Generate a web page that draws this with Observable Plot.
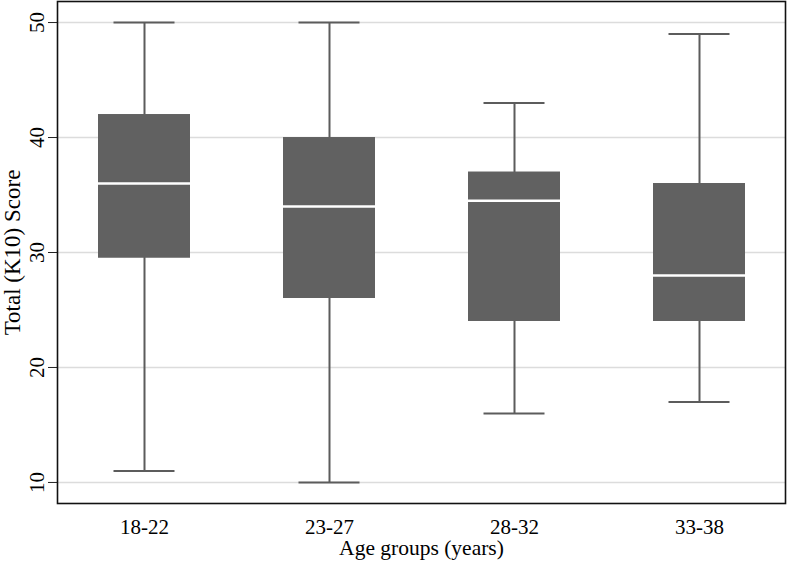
<!DOCTYPE html>
<html>
<head>
<meta charset="utf-8">
<script src="https://cdn.jsdelivr.net/npm/d3@7"></script>
<script src="https://cdn.jsdelivr.net/npm/@observablehq/plot@0.6"></script>
<style>
  html, body { margin: 0; padding: 0; background: #fff; overflow: hidden; }
</style>
</head>
<body>
<div id="chart"></div>
<script>
const groups = ["18-22", "23-27", "28-32", "33-38"];
const lowWhisker = [11, 10, 16, 17];
const q1 = [29.5, 26, 24, 24];
const median = [36, 34, 34.5, 28];
const q3 = [42, 40, 37, 36];
const highWhisker = [50, 50, 43, 49];
const yTicks = [10, 20, 30, 40, 50];
const xTitle = "Age groups (years)";
const yTitle = "Total (K10) Score";

const rows = groups.map((g, i) => ({
  group: g, lo: lowWhisker[i], q1: q1[i], med: median[i], q3: q3[i], hi: highWhisker[i]
}));

const chart = Plot.plot({
  width: 787,
  height: 563,
  marginLeft: 57,
  marginRight: 2,
  marginTop: 1,
  marginBottom: 60,
  style: { fontFamily: "'Liberation Serif', 'Times New Roman', serif", fontSize: "21px", color: "#000", background: "#fff" },
  x: { domain: groups, paddingInner: 0.504, paddingOuter: 0.214, align: 0.5, label: null },
  y: { domain: [8.17, 51.83], ticks: yTicks, label: null },
  marks: [
    Plot.gridY(yTicks, { stroke: "#dcdcdc", strokeOpacity: 1, strokeWidth: 1.5 }),
    Plot.ruleX(rows, { x: "group", y1: "lo", y2: "hi", stroke: "#5c5c5c", strokeWidth: 2 }),
    Plot.tickY(rows, { x: "group", y: "lo", stroke: "#5c5c5c", strokeWidth: 2, insetLeft: 15.5, insetRight: 15.5 }),
    Plot.tickY(rows, { x: "group", y: "hi", stroke: "#5c5c5c", strokeWidth: 2, insetLeft: 15.5, insetRight: 15.5 }),
    Plot.barY(rows, { x: "group", y1: "q1", y2: "q3", fill: "#616161" }),
    Plot.tickY(rows, { x: "group", y: "med", stroke: "#ffffff", strokeWidth: 2.5 }),
    Plot.axisY(yTicks, {
      tickSize: 9, tickPadding: 5, tickRotate: -90, stroke: "#222", label: null
    }),
    Plot.axisX({ tickSize: 0, tickPadding: 16, label: null }),
    Plot.text([yTitle], {
      text: d => d, frameAnchor: "left", dx: -54, rotate: -90,
      lineAnchor: "top", textAnchor: "middle", fontSize: 23, fill: "#000"
    }),
    Plot.text([xTitle], {
      text: d => d, frameAnchor: "bottom", dy: 51,
      lineAnchor: "bottom", textAnchor: "middle", fontSize: 21.5, fill: "#000"
    }),
    Plot.frame({ stroke: "#111", strokeWidth: 1.6 })
  ]
});
document.getElementById("chart").appendChild(chart);
</script>
</body>
</html>
